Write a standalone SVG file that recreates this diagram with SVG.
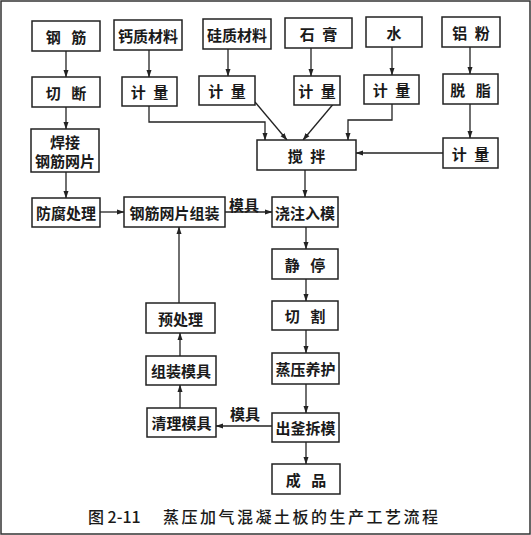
<svg xmlns="http://www.w3.org/2000/svg" width="531" height="535" viewBox="0 0 531 535">
<style>
.box rect{fill:#fff;stroke:#222;stroke-width:1.5}
.box text,.lbl{font-family:"Noto Sans CJK SC","Noto Sans",sans-serif;font-size:15px;font-weight:bold;fill:#1a1a1a;text-anchor:middle;dominant-baseline:central}
.conn path{fill:none;stroke:#222;stroke-width:1.3;marker-end:url(#ah)}
.cap{font-family:"Noto Sans CJK SC","Noto Sans",sans-serif;font-size:16px;font-weight:500;fill:#1a1a1a}
</style>
<defs>
<marker id="ah" markerWidth="8" markerHeight="6" refX="7" refY="3" orient="auto" markerUnits="userSpaceOnUse">
<path d="M0,0.5 L7.5,3 L0,5.5 z" fill="#222"/>
</marker>
</defs>
<rect x="1" y="1" width="529" height="533" fill="#fff" stroke="#333" stroke-width="1.5"/>
<g class="conn">
<path d="M66,51 V77"/>
<path d="M66,107 V129"/>
<path d="M66,172 V198"/>
<path d="M100,212 H124"/>
<path d="M225,212 H272"/>
<path d="M149,50 V77"/>
<path d="M228,49 V76"/>
<path d="M311,48 V76"/>
<path d="M392,47 V75"/>
<path d="M470,47 V74"/>
<path d="M470,104 V138"/>
<path d="M149,106 V122 H265 V140"/>
<path d="M255,102 L287,140"/>
<path d="M335,102 L303,140"/>
<path d="M392,104 V120 H348 V140"/>
<path d="M443,153 H356"/>
<path d="M305,170 V197"/>
<path d="M306,227 V249"/>
<path d="M306,279 V301"/>
<path d="M306,330 V353"/>
<path d="M306,384 V413"/>
<path d="M306,442 V464"/>
<path d="M272,426 H216"/>
<path d="M180,408 V385"/>
<path d="M180,356 V333"/>
<path d="M179,303 V227"/>
</g>
<g id="n-gangjin" class="box"><rect x="32" y="21" width="68" height="30"/><text x="66" y="36">钢&#x2002;&#x2009;筋</text></g>
<g id="n-gaizhi" class="box"><rect x="114" y="20" width="68" height="30"/><text x="148" y="35">钙质材料</text></g>
<g id="n-guizhi" class="box"><rect x="203" y="19" width="68" height="30"/><text x="237" y="34">硅质材料</text></g>
<g id="n-shigao" class="box"><rect x="285" y="18" width="67" height="30"/><text x="318.5" y="33">石&#x2002;膏</text></g>
<g id="n-shui" class="box"><rect x="366" y="17" width="56" height="30"/><text x="394" y="32">水</text></g>
<g id="n-lvfen" class="box"><rect x="442" y="17" width="58" height="30"/><text x="471" y="32">铝&#x2002;粉</text></g>
<g id="n-qieduan" class="box"><rect x="32" y="77" width="68" height="30"/><text x="66" y="92">切&#x2002;&#x2009;断</text></g>
<g id="n-jl1" class="box"><rect x="122" y="77" width="55" height="29"/><text x="149.5" y="91.5">计&#x2002;量</text></g>
<g id="n-jl2" class="box"><rect x="199" y="76" width="56" height="29"/><text x="227" y="90.5">计&#x2002;量</text></g>
<g id="n-jl3" class="box"><rect x="294" y="76" width="46" height="29"/><text x="317" y="90.5">计&#x2002;量</text></g>
<g id="n-jl4" class="box"><rect x="364" y="75" width="55" height="29"/><text x="391.5" y="89.5">计&#x2002;量</text></g>
<g id="n-tuozhi" class="box"><rect x="443" y="74" width="55" height="30"/><text x="470.5" y="89">脱&#x2002;&#x2009;脂</text></g>
<g id="n-hanjie" class="box"><rect x="31" y="129" width="68" height="43"/><text x="65" y="141">焊接</text><text x="65" y="160">钢筋网片</text></g>
<g id="n-jiaoban" class="box"><rect x="257" y="140" width="99" height="30"/><text x="306.5" y="155">搅&#x2002;拌</text></g>
<g id="n-jl5" class="box"><rect x="443" y="138" width="55" height="30"/><text x="470.5" y="153">计&#x2002;量</text></g>
<g id="n-fangfu" class="box"><rect x="32" y="198" width="68" height="29"/><text x="66" y="212.5">防腐处理</text></g>
<g id="n-zuzhuang" class="box"><rect x="124" y="197" width="101" height="30"/><text x="174.5" y="212">钢筋网片组装</text></g>
<g id="n-jiaozhu" class="box"><rect x="272" y="197" width="66" height="30"/><text x="305" y="212">浇注入模</text></g>
<g id="n-jingting" class="box"><rect x="272" y="249" width="66" height="30"/><text x="305" y="264">静&#x2002;&#x2009;停</text></g>
<g id="n-qiege" class="box"><rect x="272" y="301" width="66" height="29"/><text x="305" y="315.5">切&#x2002;&#x2009;割</text></g>
<g id="n-zhengya" class="box"><rect x="272" y="353" width="67" height="31"/><text x="305.5" y="368.5">蒸压养护</text></g>
<g id="n-chufu" class="box"><rect x="272" y="413" width="67" height="29"/><text x="305.5" y="427.5">出釜拆模</text></g>
<g id="n-chengpin" class="box"><rect x="272" y="464" width="68" height="30"/><text x="306" y="479">成&#x2002;&#x2009;品</text></g>
<g id="n-yuchuli" class="box"><rect x="146" y="303" width="69" height="30"/><text x="180.5" y="318">预处理</text></g>
<g id="n-zzmj" class="box"><rect x="146" y="356" width="70" height="29"/><text x="181" y="370.5">组装模具</text></g>
<g id="n-qlmj" class="box"><rect x="147" y="408" width="69" height="29"/><text x="181.5" y="422.5">清理模具</text></g>
<text class="lbl" x="244" y="204">模具</text>
<text class="lbl" x="245" y="413">模具</text>
<text class="cap" x="88" y="523">图 2-11</text>
<text class="cap" x="163" y="523" letter-spacing="2.5">蒸压加气混凝土板的生产工艺流程</text>
</svg>
